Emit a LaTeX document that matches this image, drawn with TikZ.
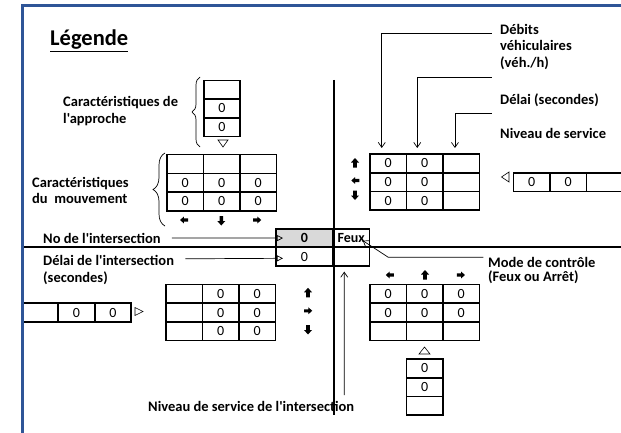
\documentclass[tikz,border=0pt]{standalone}
\usepackage{fontspec}
\setmainfont{Carlito}[Ligatures=TeXOff]
\usetikzlibrary{arrows.meta,positioning,decorations.pathreplacing}
\definecolor{cadre}{RGB}{47,85,151}
\tikzset{
  cell/.style={draw=black, line width=1.6pt, minimum width=36.5pt, minimum height=18.7pt, inner sep=0pt, outer sep=0pt, font=\fontsize{14}{16}\selectfont},
  etiquette/.style={inner sep=0pt, align=left, font=\fontsize{14.5}{16.5}\selectfont\bfseries},
  road/.style={line width=2pt},
  lead/.style={-{Straight Barb[length=5pt,width=7pt]}, line width=0.7pt},
  leadopen/.style={-{Triangle[open,length=6pt,width=6pt]}, line width=0.7pt},
  accolade/.style={decorate, decoration={brace, amplitude=#1}, line width=0.7pt},
  accolade/.default=8pt,
  tri/.style={line width=0.6pt},
  flechep/.pic={\fill (0,-5) -- (4,-0.5) -- (1.8,-0.5) -- (1.8,4.5) -- (-1.8,4.5) -- (-1.8,-0.5) -- (-4,-0.5) -- cycle;}
}
\begin{document}
\begin{tikzpicture}[x=1pt, y=-1pt, node distance=0pt]
\useasboundingbox (0,0) rectangle (621,433);

% legende : approche
\node[cell] (ap1) at (222,89.8) {};
\node[cell, below=of ap1] (ap2) {0};
\node[cell, below=of ap2] (ap3) {0};
\draw[tri] (218,140) -- (228,140) -- (223,147) -- cycle;

% legende : mouvement
\node[cell] (mv11) at (185.25,164.05) {};
\node[cell, right=of mv11] (mv12) {};
\node[cell, right=of mv12] (mv13) {};
\node[cell, below=of mv11] (mv21) {0};
\node[cell, right=of mv21] (mv22) {0};
\node[cell, right=of mv22] (mv23) {0};
\node[cell, below=of mv21] (mv31) {0};
\node[cell, right=of mv31] (mv32) {0};
\node[cell, right=of mv32] (mv33) {0};
\pic[rotate=90, scale=0.85] at (184.3,220) {flechep};
\pic[rotate=180] at (221.3,220.5) {flechep};
\pic[rotate=-90, scale=0.85] at (257,220) {flechep};

% nord
\node[cell] (nt11) at (388.25,163.35) {0};
\node[cell, right=of nt11] (nt12) {0};
\node[cell, right=of nt12] (nt13) {};
\node[cell, below=of nt11] (nt21) {0};
\node[cell, right=of nt21] (nt22) {0};
\node[cell, right=of nt22] (nt23) {};
\node[cell, below=of nt21] (nt31) {0};
\node[cell, right=of nt31] (nt32) {0};
\node[cell, right=of nt32] (nt33) {};
\pic at (355,163) {flechep};
\pic[rotate=90, scale=0.85] at (355.5,180.5) {flechep};
\pic[rotate=180] at (355,195) {flechep};

% est
\node[cell] (ea1) at (531.55,182.05) {0};
\node[cell, right=of ea1] (ea2) {0};
\node[cell, right=of ea2] (ea3) {};
\draw[tri] (509,172) -- (501.5,177) -- (509,182) -- cycle;

% ouest
\node[cell] (wa1) at (40,312.55) {};
\node[cell, right=of wa1] (wa2) {0};
\node[cell, right=of wa2] (wa3) {0};
\draw[tri] (135,307.5) -- (143,311.5) -- (135,315.5) -- cycle;
\node[cell] (wm11) at (184.25,293.85) {};
\node[cell, right=of wm11] (wm12) {0};
\node[cell, right=of wm12] (wm13) {0};
\node[cell, below=of wm11] (wm21) {};
\node[cell, right=of wm21] (wm22) {0};
\node[cell, right=of wm22] (wm23) {0};
\node[cell, below=of wm21] (wm31) {};
\node[cell, right=of wm31] (wm32) {0};
\node[cell, right=of wm32] (wm33) {0};
\pic at (308,292.8) {flechep};
\pic[rotate=-90, scale=0.85] at (308,310.8) {flechep};
\pic[rotate=180] at (308,329.5) {flechep};

% sud
\node[cell] (sm11) at (388.25,293.85) {0};
\node[cell, right=of sm11] (sm12) {0};
\node[cell, right=of sm12] (sm13) {0};
\node[cell, below=of sm11] (sm21) {0};
\node[cell, right=of sm21] (sm22) {0};
\node[cell, right=of sm22] (sm23) {0};
\node[cell, below=of sm21] (sm31) {};
\node[cell, right=of sm31] (sm32) {};
\node[cell, right=of sm32] (sm33) {};
\pic[rotate=90, scale=0.85] at (390,275) {flechep};
\pic at (425,275) {flechep};
\pic[rotate=-90, scale=0.85] at (460.7,275) {flechep};
\draw[tri] (419,354) -- (424.5,347) -- (430,354) -- cycle;
\node[cell] (sa1) at (424.75,368.35) {0};
\node[cell, below=of sa1] (sa2) {0};
\node[cell, below=of sa2] (sa3) {};

% intersection
\node[cell, minimum width=57pt, fill=black!15, font=\fontsize{14}{16}\selectfont\bfseries] (no) at (304.5,238.1) {0};
\node[cell, right=of no, font=\fontsize{14}{16}\selectfont\bfseries] (mode) {Feux};
\node[cell, minimum width=57pt, below=of no] (delai) {0};
\node[cell, right=of delai] (nsi) {};

% textes
\node[etiquette, anchor=base west] (legende) at (50,46) {\fontsize{22.5}{26}\selectfont\underline{Légende}};
\node[etiquette, anchor=west] (carapp) at (63,111) {Caractéristiques de\\l'approche};
\node[etiquette, anchor=west] (carmvt) at (32,190.5) {Caractéristiques\\du\ \ mouvement};
\node[etiquette, anchor=west] (notxt) at (43,238) {No de l'intersection};
\node[etiquette, anchor=west] (delaitxt) at (43,270) {Délai de l'intersection\\(secondes)};
\node[etiquette, anchor=west] (debits) at (500,46.7) {Débits\\véhiculaires\\(véh./h)};
\node[etiquette, anchor=west] (delaisec) at (500,100) {Délai (secondes)};
\node[etiquette, anchor=west] (nivserv) at (500,133.3) {Niveau de service};
\node[etiquette, anchor=west] (modetxt) at (488,270.5) {Mode de contrôle\\[-2pt](Feux ou Arrêt)};
\node[etiquette, anchor=west] (nsitxt) at (148,406) {Niveau de service de l'intersection};

% accolades
\draw[accolade] (200,147) -- (200,77);
\draw[accolade=12pt] (165,226) -- (165,153);

% fleches de renvoi
\coordinate (d1) at (491.7,33.3);
\coordinate (d2) at (491.7,77.3);
\coordinate (d3) at (491.7,113.3);
\coordinate (m1) at (483.3,257.3);
\coordinate (m2) at (388.3,257.3);
\coordinate (n1) at (344.3,395);
\draw[lead, shorten >=6pt] (d1) -| ([xshift=-6.5pt]nt11.north);
\draw[lead, shorten >=6pt] (d2) -| ([xshift=-7.5pt]nt12.north);
\draw[lead, shorten >=6pt] (d3) -| ([xshift=-6.3pt]nt13.north);
\draw[leadopen] ([xshift=11pt]notxt.east) -- ([xshift=7pt]no.west);
\draw[leadopen] ([xshift=11pt,yshift=-2pt]delaitxt.east |- delai.west) -- ([xshift=7pt,yshift=-1.5pt]delai.west);
\draw[lead] (m1) -- (m2) -- ([xshift=11.5pt,yshift=-2.5pt]mode.center);
\draw[lead, shorten >=5.5pt] (n1) -- ([xshift=-7pt]nsi.south);

% routes
\draw[road] (22,247.3) -- (623,247.3);
\draw[road] (333.5,80) -- (333.5,415);

% cadre
\draw[cadre, line width=3pt] (623,6) -- (22,6) -- (22,436);
\end{tikzpicture}
\end{document}
